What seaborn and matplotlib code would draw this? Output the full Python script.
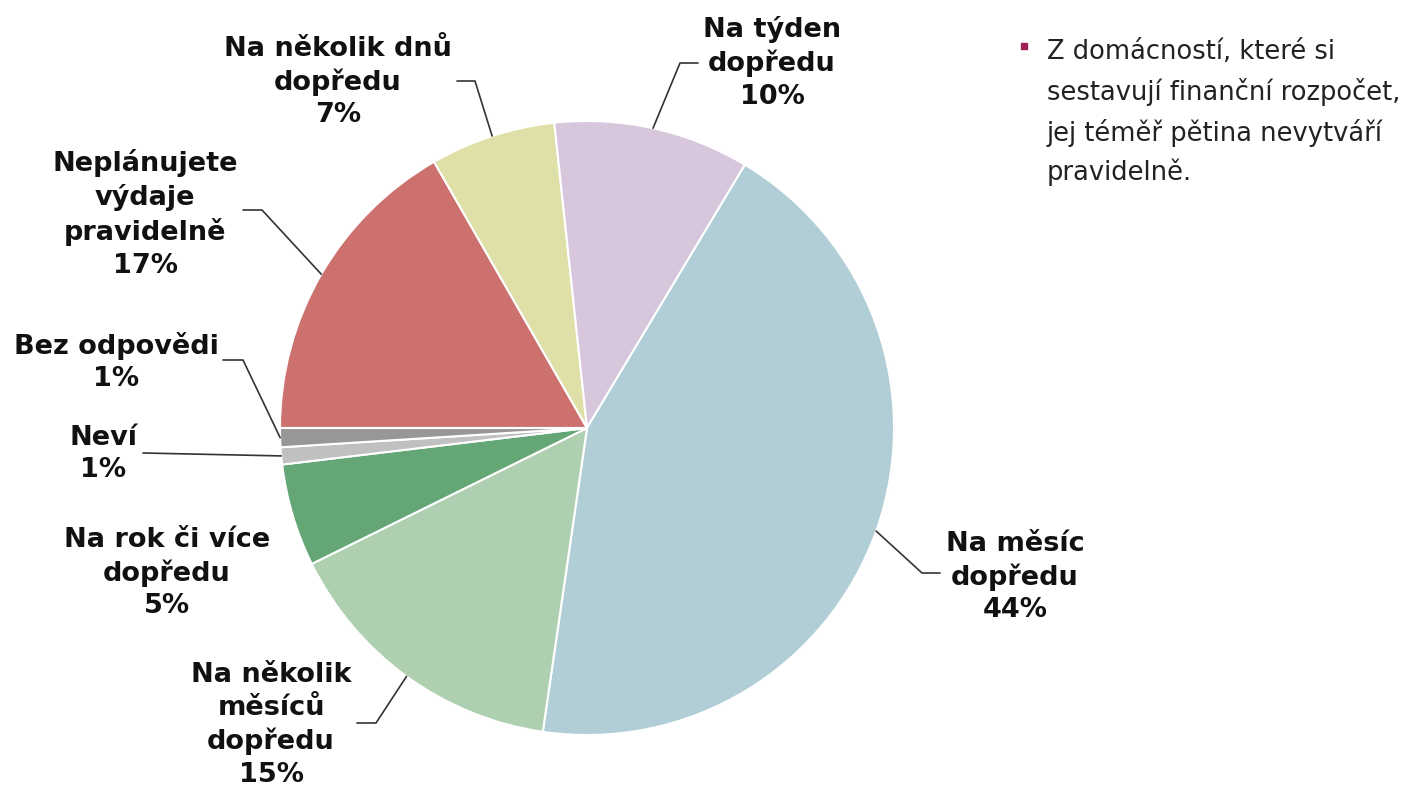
import numpy as np
import seaborn as sns
import matplotlib.pyplot as plt

# Data (share of households, %)
categories = ["Neplánujete\nvýdaje\npravidelně", "Na několik dnů\ndopředu", "Na týden\ndopředu",
              "Na měsíc\ndopředu", "Na několik\nměsíců\ndopředu", "Na rok či více\ndopředu",
              "Neví", "Bez odpovědi"]
shares = [16.7, 6.6, 10.3, 43.7, 15.4, 5.4, 0.9, 1.0]
colors = ["#CC716E", "#DFDFA8", "#D8C6DC", "#B1CED6", "#AECFB0", "#65A676", "#C0C0C0", "#979797"]
note = "Z domácností, které si\nsestavují finanční rozpočet,\njej téměř pětina nevytváří\npravidelně."

# Layout in image pixels (label centre, leader start, leader elbow)
W, H = 1416, 789
CX, CY, R = 587, 428, 307
label_px = [(145, 214), (338, 82), (772, 63), (1015, 577), (271, 725), (167, 573), (103, 454), (116, 362)]
leader_px = [((243, 210), (262, 210)), ((457, 81), (475, 81)), ((698, 63), (680, 63)),
             ((940, 573), (922, 573)), ((357, 723), (376, 723)), None,
             ((143, 453), (143, 453)), ((223, 360), (243, 360))]


def px(x, y):
    return (x - CX) / R, (CY - y) / R


sns.set_theme(style="white")
plt.rcParams['font.family'] = ['DejaVu Sans']

fig = plt.figure(figsize=(W / 100, H / 100), dpi=100)
ax = fig.add_axes([0, 0, 1, 1])

wedges, _ = ax.pie(shares, colors=colors, startangle=180, counterclock=False, radius=1,
                   wedgeprops=dict(edgecolor="white", linewidth=1.5))

for i, w in enumerate(wedges):
    lx, ly = px(*label_px[i])
    ax.text(lx, ly, f"{categories[i]}\n{shares[i]:.0f}%", ha="center", va="center",
            fontsize=19.5, fontweight="bold", color="#111111", linespacing=1.32)
    if leader_px[i] is None:
        continue
    mid = np.deg2rad((w.theta1 + w.theta2) / 2)
    (sx, sy), (ex, ey) = px(*leader_px[i][0]), px(*leader_px[i][1])
    ax.plot([sx, ex, np.cos(mid)], [sy, ey, np.sin(mid)], color="#333333", lw=1.2)

# side note with square bullet
bx, by = px(1023.5, 46)
ax.plot([bx], [by], marker="s", markersize=5, color="#A0205A")
tx, ty = px(1047, 39)
ax.text(tx, ty, note, ha="left", va="top", fontsize=18.5, color="#222222", linespacing=1.58)

ax.set_xlim(-CX / R, (W - CX) / R)
ax.set_ylim(-(H - CY) / R, CY / R)
ax.set_aspect("equal")
ax.axis("off")

fig.savefig("out.png", dpi=100)
